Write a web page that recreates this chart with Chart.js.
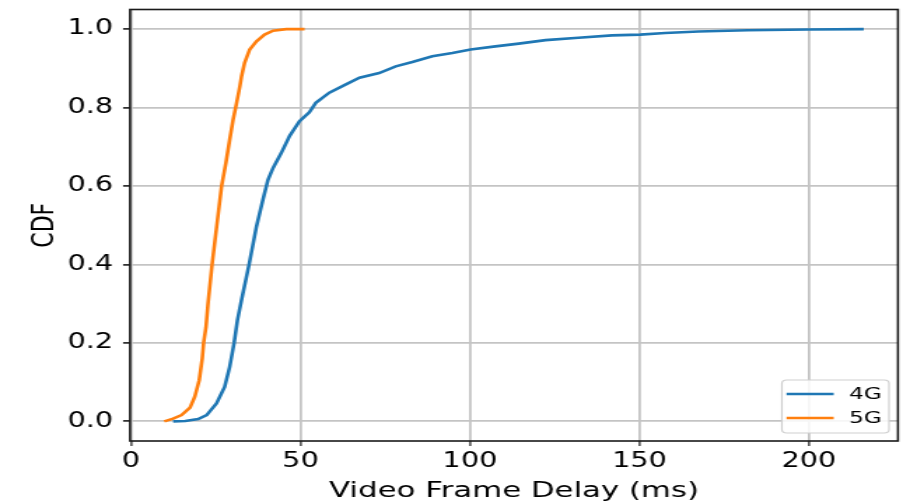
<!DOCTYPE html>
<html>
<head>
<meta charset="utf-8">
<script src="https://cdn.jsdelivr.net/npm/chart.js@4/dist/chart.umd.min.js"></script>
<style>
  html, body { margin: 0; padding: 0; background: #fff; overflow: hidden; }
  #stage { width: 650px; height: 504px; transform: scaleX(1.4); transform-origin: 0 0; position: relative; }
</style>
</head>
<body>
<div id="stage"><canvas id="cdf"></canvas></div>
<script>
// Empirical CDF of video frame delay (ms) for 4G and 5G
const seriesNames = ['4G', '5G'];

const delay4G = [12.4, 16.0, 19.8, 22.3, 25.2, 27.6, 29.1, 30.4, 31.4, 32.6, 34.8, 37.0, 38.9, 40.4, 41.9, 44.3, 46.8,
  49.7, 52.6, 54.5, 58.5, 63.4, 67.4, 73.2, 78.1, 83.0, 88.9, 94.8, 100.2, 107.5, 114.4, 122.3, 132.0, 141.9,
  150.2, 157.6, 167.4, 182.0, 200.0, 216.2];
const cdf4G = [0.000, 0.001, 0.006, 0.016, 0.046, 0.088, 0.139, 0.200, 0.259, 0.310, 0.399, 0.497, 0.565, 0.616, 0.646, 0.684, 0.728,
  0.765, 0.788, 0.812, 0.838, 0.859, 0.876, 0.888, 0.905, 0.916, 0.931, 0.939, 0.948, 0.956, 0.963, 0.972, 0.978, 0.984,
  0.986, 0.990, 0.994, 0.997, 0.999, 1.000];

const delay5G = [9.8, 12.4, 14.9, 17.4, 18.8, 20.1, 21.0, 21.4, 22.1, 22.7, 23.9, 25.3, 26.7, 28.0, 29.1, 30.1, 31.1,
  32.1, 32.6, 33.5, 35.0, 37.0, 39.4, 41.9, 45.8, 51.2];
const cdf5G = [0.000, 0.007, 0.016, 0.035, 0.063, 0.105, 0.160, 0.200, 0.240, 0.300, 0.400, 0.500, 0.599, 0.660, 0.718, 0.769, 0.810,
  0.854, 0.880, 0.914, 0.948, 0.969, 0.986, 0.996, 1.000, 1.000];

const xTicks = [0, 50, 100, 150, 200];
const yTicks = [0.0, 0.2, 0.4, 0.6, 0.8, 1.0];

const FONT = '"DejaVu Sans", sans-serif';
const toPoints = (xs, ys) => xs.map((x, i) => ({ x: x, y: ys[i] }));

// full black box around the plotting area
const frame = {
  id: 'frame',
  afterDatasetsDraw(chart) {
    const { ctx, chartArea: a } = chart;
    ctx.save();
    ctx.strokeStyle = '#1a1a1a';
    ctx.lineWidth = 1.6;
    ctx.strokeRect(a.left, a.top, a.right - a.left, a.bottom - a.top);
    ctx.restore();
  }
};

// boxed legend in the lower-right corner of the plot
const cornerLegend = {
  id: 'cornerLegend',
  afterDraw(chart) {
    const { ctx, chartArea: a } = chart;
    const w = 76.5, h = 53;
    const left = a.right - 6.4 - w, top = a.bottom - 8 - h;
    ctx.save();
    ctx.beginPath();
    ctx.roundRect(left, top, w, h, 3.5);
    ctx.fillStyle = 'rgba(255,255,255,0.85)';
    ctx.fill();
    ctx.strokeStyle = '#cfcfcf';
    ctx.lineWidth = 1.2;
    ctx.stroke();
    ctx.font = '16.5px ' + FONT;
    ctx.textBaseline = 'middle';
    chart.data.datasets.forEach((ds, i) => {
      const y = top + 14 + i * 24;
      ctx.strokeStyle = ds.borderColor;
      ctx.lineWidth = 2.6;
      ctx.beginPath();
      ctx.moveTo(left + 3.3, y);
      ctx.lineTo(left + 37, y);
      ctx.stroke();
      ctx.fillStyle = '#000';
      ctx.fillText(ds.label, left + 48, y + 1);
    });
    ctx.restore();
  }
};

// keep the plot box fixed: no extra room reserved for edge tick labels
const noEdgePad = s => { s.paddingTop = 0; s.paddingBottom = 0; s.paddingLeft = 0; s.paddingRight = 0; };

new Chart(document.getElementById('cdf'), {
  type: 'line',
  data: {
    datasets: [
      { label: seriesNames[0], data: toPoints(delay4G, cdf4G), borderColor: '#1f77b4', borderWidth: 2.6, pointRadius: 0, tension: 0, fill: false },
      { label: seriesNames[1], data: toPoints(delay5G, cdf5G), borderColor: '#ff7f0e', borderWidth: 2.6, pointRadius: 0, tension: 0, fill: false }
    ]
  },
  options: {
    responsive: true,
    maintainAspectRatio: false,
    animation: false,
    layout: { padding: { top: 9.5, right: 8.6, bottom: 0, left: 0 } },
    plugins: { legend: { display: false }, tooltip: { enabled: false } },
    scales: {
      x: {
        type: 'linear',
        min: -0.3,
        max: 226.3,
        afterBuildTicks: s => { s.ticks = xTicks.map(v => ({ value: v })); },
        afterFit: s => { s.height = 63; noEdgePad(s); },
        grid: { color: '#c4c4c4', lineWidth: 1.8, tickColor: '#1a1a1a', tickLength: 5, tickWidth: 1.2 },
        border: { display: false },
        ticks: { color: '#000', font: { family: FONT, size: 20.5 }, padding: 3, maxRotation: 0, callback: v => String(v) },
        title: { display: true, text: 'Video Frame Delay (ms)', color: '#000', font: { family: FONT, size: 22 }, padding: { top: 0, bottom: 0 } }
      },
      y: {
        type: 'linear',
        min: -0.05,
        max: 1.05,
        afterBuildTicks: s => { s.ticks = yTicks.map(v => ({ value: v })); },
        afterFit: s => { s.width = 92.9; noEdgePad(s); },
        grid: { color: '#c4c4c4', lineWidth: 1.8, tickColor: '#1a1a1a', tickLength: 5, tickWidth: 1.6 },
        border: { display: false },
        ticks: { color: '#000', font: { family: FONT, size: 20.5 }, padding: 7, callback: v => v.toFixed(1) },
        title: { display: true, text: 'CDF', color: '#000', font: { family: FONT, size: 22 }, padding: { top: 19.4, bottom: 0 } }
      }
    }
  },
  plugins: [frame, cornerLegend]
});
</script>
</body>
</html>
